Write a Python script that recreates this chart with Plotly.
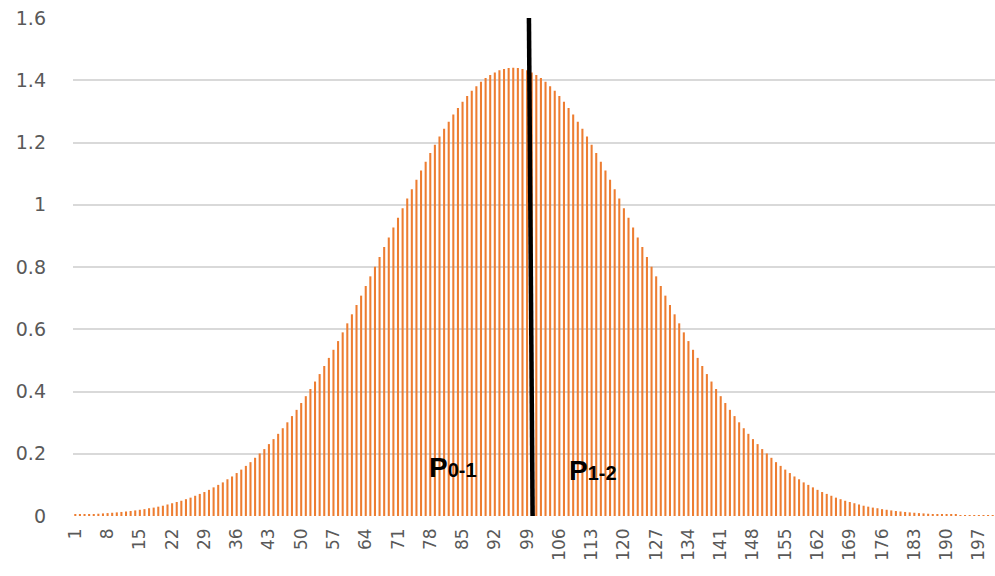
import plotly.graph_objects as go

categories = list(range(1, 201))

values_left = [
    0.0040, 0.0045, 0.0051, 0.0058, 0.0065, 0.0073, 0.0083, 0.0093, 0.0104, 0.0116,
    0.013, 0.0145, 0.016, 0.018, 0.020, 0.022, 0.025, 0.027, 0.030, 0.033,
    0.037, 0.041, 0.045, 0.049, 0.054, 0.059, 0.065, 0.071, 0.077, 0.084,
    0.092, 0.100, 0.108, 0.118, 0.127, 0.138, 0.149, 0.161, 0.173, 0.187,
    0.201, 0.215, 0.231, 0.247, 0.264, 0.282, 0.301, 0.321, 0.341, 0.363,
    0.385, 0.408, 0.432, 0.456, 0.482, 0.508, 0.534, 0.562, 0.590, 0.619,
    0.648, 0.678, 0.708, 0.739, 0.770, 0.801, 0.832, 0.864, 0.895, 0.927,
    0.958, 0.989, 1.020, 1.050, 1.080, 1.110, 1.138, 1.166, 1.193, 1.219,
    1.244, 1.267, 1.290, 1.311, 1.331, 1.349, 1.366, 1.381, 1.395, 1.407,
    1.417, 1.425, 1.432, 1.436, 1.439, 1.440,
]
values_right = [
    1.439, 1.436, 1.432, 1.425, 1.417, 1.407, 1.395, 1.381, 1.366, 1.349,
    1.331, 1.311, 1.290, 1.267, 1.244, 1.219, 1.193, 1.166, 1.138, 1.110,
    1.080, 1.050, 1.020, 0.989, 0.958, 0.927, 0.895, 0.864, 0.832, 0.801,
    0.770, 0.739, 0.708, 0.678, 0.648, 0.619, 0.590, 0.562, 0.534, 0.508,
    0.482, 0.456, 0.432, 0.408, 0.385, 0.363, 0.341, 0.321, 0.301, 0.282,
    0.264, 0.247, 0.231, 0.215, 0.201, 0.187, 0.173, 0.161, 0.149, 0.138,
    0.127, 0.118, 0.108, 0.100, 0.092, 0.084, 0.077, 0.071, 0.065, 0.059,
    0.054, 0.049, 0.045, 0.041, 0.037, 0.033, 0.030, 0.027, 0.025, 0.022,
    0.020, 0.018, 0.016, 0.0145, 0.013, 0.0116, 0.0104, 0.0093, 0.0083, 0.0073,
    0.0065, 0.0058, 0.0051, 0.0045, 0.0040, 0.0036, 0.0031, 0.0028, 0.0024, 0.0021,
    0.0019, 0.0016, 0.0014, 0.0013,
]
values = values_left + values_right

x_tick_values = list(range(1, 201, 7))
x_tick_labels = [str(v) for v in x_tick_values]
y_tick_values = [0, 0.2, 0.4, 0.6, 0.8, 1, 1.2, 1.4, 1.6]
y_tick_labels = ["0", "0.2", "0.4", "0.6", "0.8", "1", "1.2", "1.4", "1.6"]

divider_top_x = 99.4
divider_bottom_x = 100.2
divider_top_y = 1.6
divider_bottom_y = 0

label_texts = ["P", "P"]
label_subs = ["0-1", "1-2"]
label_x = [83.0, 113.4]
label_y = [0.155, 0.145]

fig = go.Figure()
fig.add_trace(go.Bar(
    x=categories, y=values,
    marker=dict(color="#ED7D31", line=dict(width=0)),
    showlegend=False,
))

fig.add_shape(
    type="line", xref="x", yref="y",
    x0=divider_top_x, y0=divider_top_y, x1=divider_bottom_x, y1=divider_bottom_y,
    line=dict(color="black", width=4.5),
)

for t, s, lx, ly in zip(label_texts, label_subs, label_x, label_y):
    fig.add_annotation(
        x=lx, y=ly, xref="x", yref="y", showarrow=False,
        text='<b>' + t + '<span style="font-size:20px">' + s + '</span></b>',
        font=dict(family="Liberation Sans, Arial, sans-serif", size=28, color="black"),
        xanchor="center", yanchor="middle",
    )

fig.update_layout(
    width=995, height=576,
    margin=dict(l=73, r=0, t=18, b=60),
    paper_bgcolor="white", plot_bgcolor="white",
    bargap=0.55,
    font=dict(family="DejaVu Sans, sans-serif", color="#595959"),
)
fig.update_xaxes(
    range=[0.5, 200.5], automargin=False,
    tickmode="array", tickvals=x_tick_values, ticktext=x_tick_labels,
    tickangle=-90, tickfont=dict(size=17, color="#595959"),
    showgrid=False, showline=False, zeroline=False, ticks="",
    ticklabelstandoff=8,
)
fig.update_yaxes(
    range=[0, 1.6], automargin=False,
    tickmode="array", tickvals=y_tick_values, ticktext=y_tick_labels,
    tickfont=dict(size=19, color="#595959"),
    showgrid=True, gridcolor="#D9D9D9", gridwidth=1.5,
    zeroline=False, showline=False, ticks="",
    ticklabelstandoff=26,
)

fig.write_html(
    "out.html",
    config={"displayModeBar": False},
    post_script="document.body.style.margin='0';document.body.style.overflow='hidden';",
)
